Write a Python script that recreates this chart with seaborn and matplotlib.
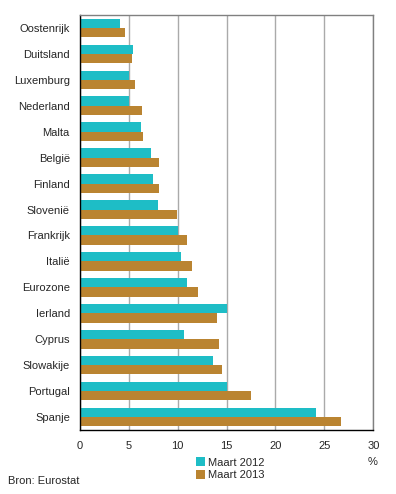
import matplotlib
matplotlib.use("Agg")
import matplotlib.pyplot as plt
import seaborn as sns
import pandas as pd

landen = ["Oostenrijk", "Duitsland", "Luxemburg", "Nederland", "Malta", "België",
          "Finland", "Slovenië", "Frankrijk", "Italië", "Eurozone", "Ierland",
          "Cyprus", "Slowakije", "Portugal", "Spanje"]
maart_2012 = [4.1, 5.5, 5.0, 5.0, 6.3, 7.3, 7.5, 8.0, 10.0, 10.4, 11.0, 15.0, 10.7, 13.6, 15.1, 24.1]
maart_2013 = [4.6, 5.4, 5.7, 6.4, 6.5, 8.1, 8.1, 9.9, 11.0, 11.5, 12.1, 14.0, 14.2, 14.5, 17.5, 26.7]
reeksen = ["Maart 2012", "Maart 2013"]
xticks = [0, 5, 10, 15, 20, 25, 30]

df = pd.DataFrame({
    "land": landen * 2,
    "waarde": maart_2012 + maart_2013,
    "reeks": [reeksen[0]] * len(landen) + [reeksen[1]] * len(landen),
})

sns.set_style("white")
plt.rcParams["font.family"] = ["Liberation Sans", "DejaVu Sans"]
FS = 8
plt.rcParams["font.size"] = FS

fig = plt.figure(figsize=(3.96, 4.94), dpi=100)
ax = fig.add_axes([0.201, 0.1296, 0.742, 0.84])

sns.barplot(data=df, y="land", x="waarde", hue="reeks", orient="h",
            palette=["#1EBDC6", "#BA8431"], width=0.72, saturation=1,
            ax=ax, order=landen, hue_order=reeksen, edgecolor="none", linewidth=0)

ax.set_xlim(0, 30)
ax.set_ylim(len(landen) - 0.5, -0.5)
ax.set_xticks(xticks)
ax.set_xticklabels([str(t) for t in xticks], fontsize=FS)
ax.set_xlabel("")
ax.set_ylabel("")
ax.tick_params(axis="y", length=0, pad=7, labelsize=FS)
ax.tick_params(axis="x", direction="out", length=4, width=1, color="black", pad=4)
ax.set_axisbelow(True)
ax.xaxis.grid(True, color="#AAAAAA", linewidth=1)
ax.yaxis.grid(False)
for s in ["left", "bottom"]:
    ax.spines[s].set_color("black")
    ax.spines[s].set_linewidth(1)
for s in ["top", "right"]:
    ax.spines[s].set_visible(True)
    ax.spines[s].set_color("#808080")
    ax.spines[s].set_linewidth(1)

leg = ax.get_legend()
handles = leg.legend_handles
leg.remove()
fig.legend(handles, reeksen, loc="upper left", bbox_to_anchor=(0.495, 0.074),
           frameon=False, fontsize=FS, handlelength=0.8, handleheight=0.8,
           handletextpad=0.3, labelspacing=0.25, borderaxespad=0, borderpad=0)

fig.text(0.94, 0.064, "%", fontsize=FS, ha="center", va="center")
fig.text(0.02, 0.026, "Bron: Eurostat", fontsize=FS, ha="left", va="center")

fig.savefig("out.png", dpi=100)
